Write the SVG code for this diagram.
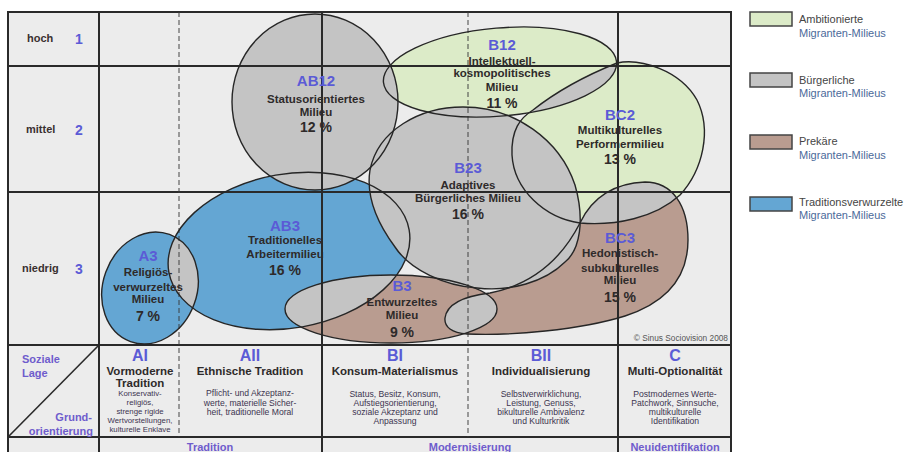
<svg xmlns="http://www.w3.org/2000/svg" width="907" height="452" viewBox="0 0 907 452">
<style>
 text{font-family:"Liberation Sans",Arial,sans-serif}
 .bg{fill:#ececec}
 .grid{stroke:#2a2a2a;stroke-width:2;fill:none}
 .dash{stroke:#3a3a3a;stroke-width:1.1;stroke-dasharray:5 3;fill:none;opacity:0.85}
 .gray{fill:#c4c4c4}
 .green{fill:#dcebc8}
 .brown{fill:#b99c90}
 .blue{fill:#64a6d3}
 .ol{fill:none;stroke:#262626;stroke-width:1.4}
 .code{font-weight:bold;font-size:15px;fill:#5b5bd6;text-anchor:middle}
 .hcode{font-weight:bold;font-size:16px;fill:#5b5bd6;text-anchor:middle}
 .name{font-weight:bold;font-size:11.5px;fill:#2e2a2a;text-anchor:middle}
 .pct{font-weight:bold;font-size:14px;fill:#2e2a2a;text-anchor:middle}
 .row{font-weight:bold;font-size:11px;fill:#3a3030}
 .rown{font-weight:bold;font-size:14px;fill:#5b5bd6;text-anchor:middle}
 .small{font-size:8.6px;fill:#3c3550;text-anchor:middle}
 .smallA{font-size:7.8px;fill:#3c3550;text-anchor:middle}
 .axis{font-weight:bold;font-size:11px;fill:#6f5ccc}
 .leg1{font-size:11px;fill:#454545}
 .leg2{font-size:11px;fill:#4b6a9a}
 .legbox{stroke:#444;stroke-width:1.5}
 .copy{font-size:8.3px;fill:#555;text-anchor:end}
</style>
<defs>
 <ellipse id="s-AB12" cx="315" cy="102" rx="83" ry="88"/>
 <ellipse id="s-B12" cx="500" cy="72" rx="117" ry="44" transform="rotate(-5 500 72)"/>
 <path id="s-BC2" d="M617,63 C640,58 680,70 697,100 C712,130 703,170 680,195 C655,218 615,226 580,223 C545,218 514,190 512,155 C511,130 520,118 533,110 C552,95 582,77 617,63 Z"/>
 <path id="s-B23" d="M463,107 C515,107 560,140 575,185 C585,220 580,250 565,262 C545,282 510,292 477,288 C445,286 410,270 395,247 C375,220 366,195 370,170 C378,130 420,107 463,107 Z"/>
 <ellipse id="s-AB3" cx="289" cy="251" rx="122" ry="77" transform="rotate(-10 289 251)"/>
 <ellipse id="s-A3" cx="150" cy="288" rx="47" ry="57" transform="rotate(20 150 288)"/>
 <ellipse id="s-B3" cx="391" cy="309" rx="106" ry="34"/>
 <path id="s-BC3" d="M445,318 C447,303 465,296 490,293 C530,285 560,262 580,223 C592,197 615,183 645,182 C672,182 688,205 688,240 C688,278 665,303 625,316 C580,330 510,336 467,334 C452,333 444,327 445,318 Z"/>
 <clipPath id="c-AB3"><use href="#s-AB3"/></clipPath>
 <clipPath id="c-BC2"><use href="#s-BC2"/></clipPath>
 <clipPath id="c-BC3"><use href="#s-BC3"/></clipPath>
 <clipPath id="c-B3"><use href="#s-B3"/></clipPath>
</defs>

<rect x="0" y="0" width="907" height="452" fill="#ffffff"/>
<rect class="bg" x="8" y="12" width="723" height="445"/>

<g id="fills">
 <use href="#s-B12" class="green"/>
 <use href="#s-BC2" class="green"/>
 <use href="#s-AB3" class="blue"/>
 <use href="#s-A3" class="blue"/>
 <use href="#s-B3" class="brown"/>
 <use href="#s-BC3" class="brown"/>
 <use href="#s-A3" class="gray" clip-path="url(#c-AB3)"/>
 <use href="#s-B3" class="gray" clip-path="url(#c-AB3)"/>
 <use href="#s-B12" class="gray" clip-path="url(#c-BC2)"/>
 <use href="#s-BC2" class="gray" clip-path="url(#c-BC3)"/>
 <use href="#s-B3" class="gray" clip-path="url(#c-BC3)"/>
 <use href="#s-AB12" class="gray"/>
 <use href="#s-B23" class="gray"/>
</g>

<g id="grid">
 <rect class="grid" x="8" y="12" width="723" height="450"/>
 <line class="grid" x1="8" y1="66" x2="731" y2="66"/>
 <line class="grid" x1="8" y1="192" x2="731" y2="192"/>
 <line class="grid" x1="8" y1="345" x2="731" y2="345"/>
 <line class="grid" x1="8" y1="437" x2="731" y2="437"/>
 <line class="grid" x1="99" y1="12" x2="99" y2="452"/>
 <line class="grid" x1="322" y1="12" x2="322" y2="452"/>
 <line class="grid" x1="618" y1="12" x2="618" y2="452"/>
 <line class="dash" x1="179" y1="12" x2="179" y2="437"/>
 <line class="dash" x1="468" y1="12" x2="468" y2="437"/>
 <line x1="98" y1="346" x2="9" y2="436" stroke="#2a2a2a" stroke-width="1.6"/>
</g>

<g id="row-labels">
 <text class="row" x="27" y="42">hoch</text>
 <text class="rown" x="79" y="44">1</text>
 <text class="row" x="26" y="133">mittel</text>
 <text class="rown" x="79" y="135">2</text>
 <text class="row" x="22" y="272">niedrig</text>
 <text class="rown" x="79" y="274">3</text>
</g>

<g id="AB12">
 <use href="#s-AB12" class="ol"/>
 <text class="code" x="316" y="86">AB12</text>
 <text class="name" x="316" y="102.5">Statusorientiertes</text>
 <text class="name" x="316" y="115.5">Milieu</text>
 <text class="pct" x="316" y="132">12 %</text>
</g>
<g id="B12">
 <use href="#s-B12" class="ol"/>
 <text class="code" x="502" y="50">B12</text>
 <text class="name" x="502" y="65">Intellektuell-</text>
 <text class="name" x="502" y="77">kosmopolitisches</text>
 <text class="name" x="502" y="91">Milieu</text>
 <text class="pct" x="502" y="108">11 %</text>
</g>
<g id="BC2">
 <use href="#s-BC2" class="ol"/>
 <text class="code" x="620" y="120">BC2</text>
 <text class="name" x="620" y="134">Multikulturelles</text>
 <text class="name" x="620" y="147.5">Performermilieu</text>
 <text class="pct" x="620" y="164">13 %</text>
</g>
<g id="B23">
 <use href="#s-B23" class="ol"/>
 <text class="code" x="468" y="173">B23</text>
 <text class="name" x="468" y="188.5">Adaptives</text>
 <text class="name" x="468" y="202">Bürgerliches Milieu</text>
 <text class="pct" x="468" y="219">16 %</text>
</g>
<g id="AB3">
 <use href="#s-AB3" class="ol"/>
 <text class="code" x="285" y="231">AB3</text>
 <text class="name" x="285" y="244">Traditionelles</text>
 <text class="name" x="285" y="258">Arbeitermilieu</text>
 <text class="pct" x="285" y="275">16 %</text>
</g>
<g id="A3">
 <use href="#s-A3" class="ol"/>
 <text class="code" x="148" y="261">A3</text>
 <text class="name" x="148" y="275.5">Religiös-</text>
 <text class="name" x="148" y="291">verwurzeltes</text>
 <text class="name" x="148" y="303">Milieu</text>
 <text class="pct" x="148" y="321">7 %</text>
</g>
<g id="B3">
 <use href="#s-B3" class="ol"/>
 <text class="code" x="402" y="291">B3</text>
 <text class="name" x="402" y="306">Entwurzeltes</text>
 <text class="name" x="402" y="319">Milieu</text>
 <text class="pct" x="402" y="337">9 %</text>
</g>
<g id="BC3">
 <use href="#s-BC3" class="ol"/>
 <text class="code" x="620" y="243">BC3</text>
 <text class="name" x="620" y="257">Hedonistisch-</text>
 <text class="name" x="620" y="272">subkulturelles</text>
 <text class="name" x="620" y="284">Milieu</text>
 <text class="pct" x="620" y="302">15 %</text>
</g>

<text class="copy" x="728" y="340.5">© Sinus Sociovision 2008</text>

<g id="axis-header">
 <text class="axis" x="22" y="363">Soziale</text>
 <text class="axis" x="22" y="377">Lage</text>
 <text class="axis" x="92" y="421" text-anchor="end">Grund-</text>
 <text class="axis" x="93" y="435" text-anchor="end">orientierung</text>
</g>

<g id="col-AI">
 <text class="hcode" x="140" y="361">AI</text>
 <text class="name" x="140" y="374.5">Vormoderne</text>
 <text class="name" x="140" y="386.5">Tradition</text>
 <text class="smallA" x="140" y="395.5">Konservativ-</text>
 <text class="smallA" x="140" y="404.5">religiös,</text>
 <text class="smallA" x="140" y="413.5">strenge rigide</text>
 <text class="smallA" x="140" y="422.5">Wertvorstellungen,</text>
 <text class="smallA" x="140" y="431.5">kulturelle Enklave</text>
</g>
<g id="col-AII">
 <text class="hcode" x="250" y="361">AII</text>
 <text class="name" x="250" y="374.5">Ethnische Tradition</text>
 <text class="small" x="250" y="396">Pflicht- und Akzeptanz-</text>
 <text class="small" x="250" y="405.5">werte, materielle Sicher-</text>
 <text class="small" x="250" y="415">heit, traditionelle Moral</text>
</g>
<g id="col-BI">
 <text class="hcode" x="395" y="361">BI</text>
 <text class="name" x="395" y="374.5">Konsum-Materialismus</text>
 <text class="small" x="395" y="396.5">Status, Besitz, Konsum,</text>
 <text class="small" x="395" y="405.5">Aufstiegsorientierung,</text>
 <text class="small" x="395" y="414.5">soziale Akzeptanz und</text>
 <text class="small" x="395" y="423.5">Anpassung</text>
</g>
<g id="col-BII">
 <text class="hcode" x="541" y="361">BII</text>
 <text class="name" x="541" y="374.5">Individualisierung</text>
 <text class="small" x="541" y="396.5">Selbstverwirklichung,</text>
 <text class="small" x="541" y="405.5">Leistung, Genuss,</text>
 <text class="small" x="541" y="414.5">bikulturelle Ambivalenz</text>
 <text class="small" x="541" y="423.5">und Kulturkritik</text>
</g>
<g id="col-C">
 <text class="hcode" x="675" y="361">C</text>
 <text class="name" x="675" y="374.5">Multi-Optionalität</text>
 <text class="small" x="675" y="396.5">Postmodernes Werte-</text>
 <text class="small" x="675" y="405.5">Patchwork, Sinnsuche,</text>
 <text class="small" x="675" y="414.5">multikulturelle</text>
 <text class="small" x="675" y="423.5">Identifikation</text>
</g>

<g id="bottom-axis">
 <text class="axis" x="210" y="451" text-anchor="middle">Tradition</text>
 <text class="axis" x="470" y="451" text-anchor="middle">Modernisierung</text>
 <text class="axis" x="675" y="451" text-anchor="middle">Neuidentifikation</text>
</g>

<g id="legend">
 <rect class="legbox green" x="750" y="12" width="42" height="14"/>
 <text class="leg1" x="799" y="23">Ambitionierte</text>
 <text class="leg2" x="799" y="37">Migranten-Milieus</text>
 <rect class="legbox gray" x="750" y="73" width="42" height="14"/>
 <text class="leg1" x="799" y="84">Bürgerliche</text>
 <text class="leg2" x="799" y="97">Migranten-Milieus</text>
 <rect class="legbox brown" x="750" y="135" width="42" height="14"/>
 <text class="leg1" x="799" y="145">Prekäre</text>
 <text class="leg2" x="799" y="159">Migranten-Milieus</text>
 <rect class="legbox blue" x="750" y="197" width="42" height="14"/>
 <text class="leg1" x="799" y="206">Traditionsverwurzelte</text>
 <text class="leg2" x="799" y="219">Migranten-Milieus</text>
</g>
</svg>
